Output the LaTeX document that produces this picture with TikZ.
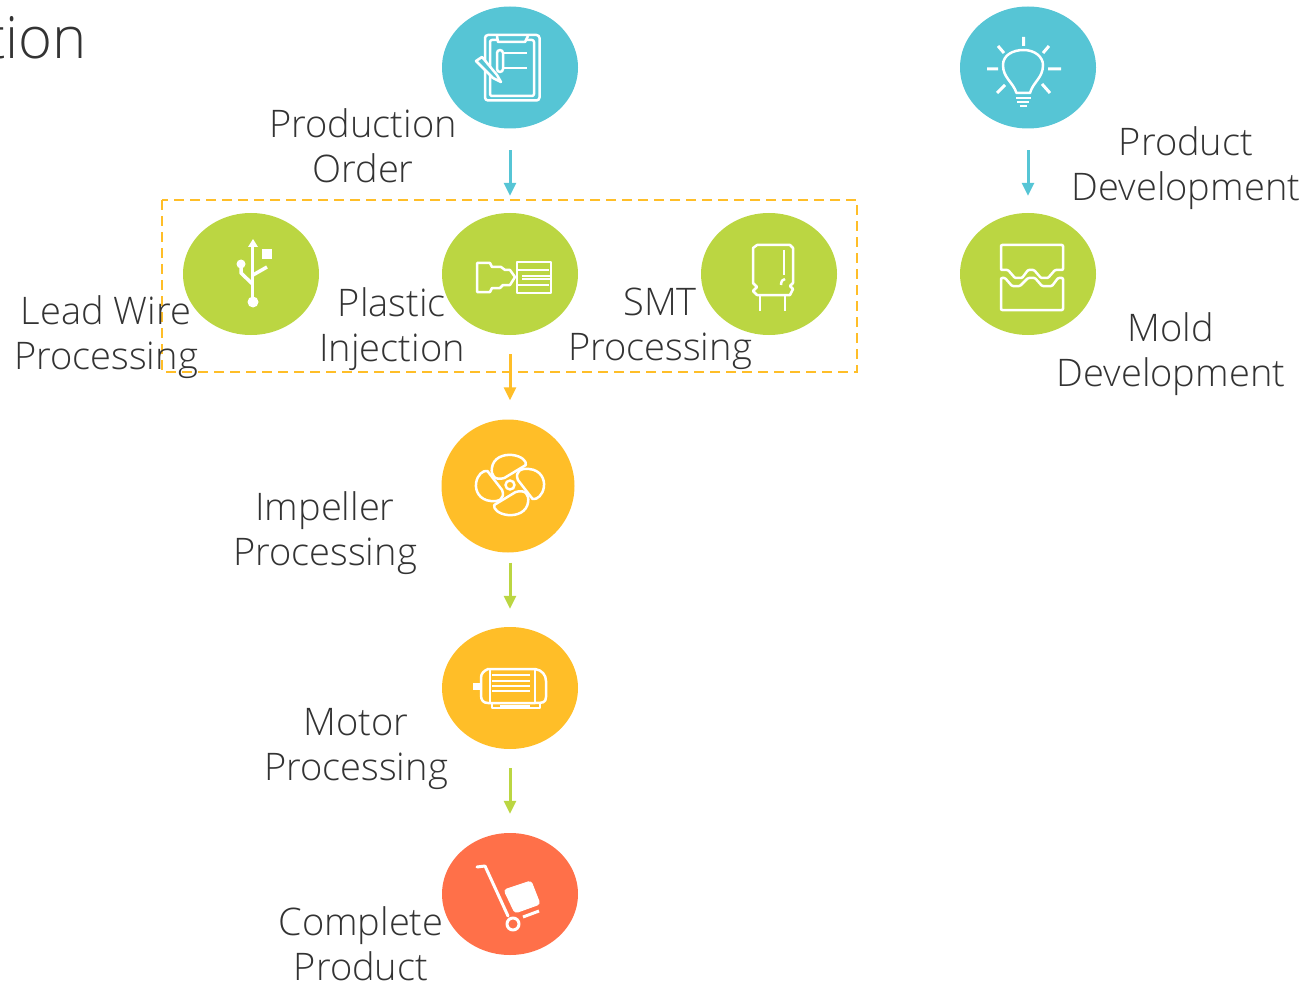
\documentclass[tikz,border=0pt]{standalone}
\usepackage{fontspec}
\setmainfont{Open Sans Light}
\usetikzlibrary{shapes.geometric,arrows.meta}
\definecolor{tealc}{HTML}{56C5D5}
\definecolor{greenc}{HTML}{BBD642}
\definecolor{yellowc}{HTML}{FFBE28}
\definecolor{orangec}{HTML}{FF7049}
\definecolor{textc}{HTML}{333333}
\begin{document}
\begin{tikzpicture}[
        x=1pt,y=-1pt,
        disc/.style={ellipse,minimum width=136pt,minimum height=122pt,inner sep=0pt},
        label/.style={align=center,text=textc,font=\fontsize{38}{45}\selectfont,inner sep=0pt},
        flow/.style={line width=3pt,-{Triangle[width=12pt,length=13pt]}},
        icon/.style={draw=white,line width=2.5pt,line join=round},
        band/.style={draw=yellowc,line width=2pt,dash pattern=on 10pt off 6pt}
    ]
    \useasboundingbox (0,0) rectangle (1307,987);

    \node[anchor=east,text=textc,font=\fontsize{58}{60}\selectfont,inner sep=0pt] (title) at (87,38) {tion};

    \draw[band] (162,200) rectangle (857,372);

    \node[disc,fill=tealc] (order) at (510,67.5) {};
    \node[disc,fill=tealc] (product) at (1028,67.5) {};
    \node[disc,fill=greenc] (wire) at (251,274) {};
    \node[disc,fill=greenc] (plastic) at (510,274) {};
    \node[disc,fill=greenc] (smt) at (769,274) {};
    \node[disc,fill=greenc] (mold) at (1028,274) {};
    \node[disc,fill=yellowc,minimum width=133pt,minimum height=133pt] (impeller) at (508,486) {};
    \node[disc,fill=yellowc] (motor) at (510,688) {};
    \node[disc,fill=orangec] (complete) at (510,894) {};

    \node[label] (orderlabel) at (363,146) {Production\\Order};
    \node[label] (productlabel) at (1186,168) {Product\\Development};
    \node[label] (wirelabel) at (106,337.5) {Lead Wire\\Processing};
    \node[label] (plasticlabel) at (392,329) {Plastic\\Injection};
    \node[label] (smtlabel) at (660,329) {SMT\\Processing};
    \node[label] (moldlabel) at (1171,354.5) {Mold\\Development};
    \node[label] (impellerlabel) at (325,533) {Impeller\\Processing};
    \node[label] (motorlabel) at (356,748.5) {Motor\\Processing};
    \node[label] (completelabel) at (361,944) {Complete\\Product};

    \draw[flow,tealc,shorten <=21.5pt,shorten >=17pt] (order) -- (plastic);
    \draw[flow,tealc,shorten <=21.5pt,shorten >=17pt] (product) -- (mold);
    \draw[flow,yellowc,shorten <=19pt,shorten >=19pt] (plastic.south) -- (plastic.south |- impeller.north);
    \draw[flow,greenc,shorten <=10pt,shorten >=18pt] (impeller.south -| motor) -- (motor);
    \draw[flow,greenc,shorten <=19pt,shorten >=19pt] (motor) -- (complete);

    % clipboard
    \draw[icon,rounded corners=3pt] (485,35) rectangle (539.5,100.5);
    \draw[icon,rounded corners=2pt] (497,40) -- (490,40) -- (490,96) -- (534,96) -- (534,40) -- (527,40);
    \draw[icon] (497,36) -- (498,42) -- (525,42) -- (528,36);
    \draw[icon] (503,53) -- (527,53) (503,68) -- (527,68);
    \draw[icon,rounded corners=3pt] (497,50) rectangle (503,72);
    \draw[icon,fill=tealc] (476,61) -- (482,57) -- (497,75) -- (501,82) -- (493,78) -- cycle;

    % bulb
    \draw[icon] (1016.5,93) .. controls (1013,82) and (1003,78) .. (1003,65) .. controls (1003,55) and (1013,50) .. (1023.5,50) .. controls (1035,50) and (1043,57) .. (1043,65) .. controls (1043,78) and (1033,82) .. (1030,93) -- cycle;
    \draw[icon] (1016,98) -- (1031,98) (1017,102) -- (1029,102) (1020,106) -- (1027,106);
    \draw[icon,line width=3pt] (1023.5,37) -- (1023.5,46) (998,46) -- (1004,53) (1049,46) -- (1043,53)
        (987,69) -- (998,69) (1048,69) -- (1061,69) (997,93) -- (1005,85) (1050,93) -- (1042,84);

    % usb
    \draw[icon,line width=3.5pt] (252.5,245) -- (252.5,302);
    \fill[white] (253,239) -- (258,247) -- (248,247) -- cycle;
    \node[circle,fill=white,minimum size=11pt,inner sep=0pt] (usbend) at (253,302) {};
    \fill[white] (262,249) rectangle (272,259);
    \draw[icon,line width=3.5pt] (252.5,284) -- (241,273) -- (241,265) (253,275) -- (267,267);
    \node[circle,fill=white,minimum size=9pt,inner sep=0pt] (usbplug) at (241,264) {};

    % injection
    \draw[icon] (477,263) -- (490,263) -- (492,267) -- (501,267) -- (505,270) -- (510,270) -- (515,277) -- (510,285) -- (503,285) -- (500,288) -- (492,288) -- (490,292) -- (477,292) -- cycle;
    \draw[icon] (517,262) rectangle (551,293);
    \draw[icon] (517,270) -- (549,270) (522,276) -- (551,276) (522,279) -- (551,279) (517,285) -- (549,285);

    % capacitor
    \draw[icon] (757,245) -- (790,245) -- (793,248) -- (793,283) -- (790,286) -- (793,289) -- (790,295) -- (757,295) -- (753,291) -- (757,287) -- (753,283) -- (753,248) -- cycle;
    \draw[icon] (760,295) -- (760,311) (785,295) -- (785,311) (784,250) -- (784,275);
    \draw[icon] (781,285) .. controls (781,281) and (783,279) .. (785,279);

    % mold
    \draw[icon,rounded corners=1pt] (1001,245) -- (1063,245) -- (1063,270) -- (1055,270) -- (1048,278) -- (1041,278) -- (1034,270) -- (1028,270) -- (1022,278) -- (1015,278) -- (1008,270) -- (1001,270) -- cycle;
    \draw[icon,rounded corners=1pt] (1001,278) -- (1005,278) -- (1012,286) -- (1020,286) -- (1028,278) -- (1035,278) -- (1042,286) -- (1052,286) -- (1058,278) -- (1063,278) -- (1063,310) -- (1001,310) -- cycle;

    % fan
    \draw[icon] (510,485) circle (4.5pt);
    \foreach \angle in {0,90,180,270} {
        \draw[icon,shift={(510,485)},xscale=1.13,rotate=\angle] (-5,-7) .. controls (-14,-4) and (-17,-10) .. (-16,-17) .. controls (-15,-27) and (-6,-31) .. (2,-30) .. controls (10,-29) and (15,-24) .. (14,-20) -- cycle;
    }

    % motor
    \draw[icon] (488,669) -- (535,669) .. controls (542,670) and (546,675) .. (546,681) -- (546,697) .. controls (546,703) and (542,703) .. (535,703) -- (488,703) .. controls (483,703) and (481,700) .. (481,695) -- (481,678) .. controls (481,673) and (484,671) .. (488,669) -- cycle;
    \draw[icon] (490,669) -- (490,703) (535,669) -- (535,703) (492,675) -- (530,675) (492,681) -- (530,681) (492,686) -- (530,686) (492,691) -- (530,691);
    \fill[white] (473,683) rectangle (481,690);
    \draw[icon] (492,703) -- (492,708) -- (540,708) -- (540,703) (500,706) -- (530,706);

    % trolley
    \draw[icon,line width=3pt,line cap=round] (477,867) -- (485,866) -- (508,916);
    \draw[icon,line width=3pt] (513,924) circle (6pt);
    \draw[icon,line width=3pt] (523,917) -- (539,911);
    \filldraw[white,line width=1pt,rounded corners=3pt] (504,890) -- (531,881) -- (540,904) -- (515,913) -- cycle;
\end{tikzpicture}
\end{document}
